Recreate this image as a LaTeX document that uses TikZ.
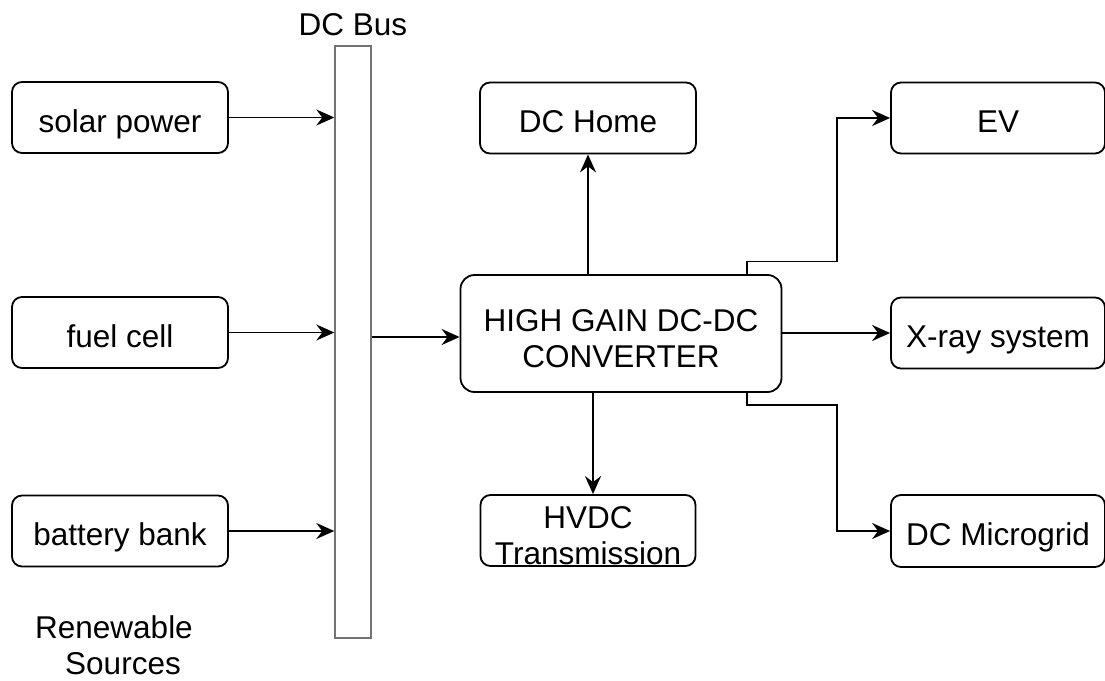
\documentclass[tikz,border=0pt]{standalone}
\usepackage{fontspec}
\setmainfont{Liberation Sans}
\usetikzlibrary{arrows.meta,positioning,calc}
\begin{document}
\begin{tikzpicture}[x=1pt,y=-1pt,
  box/.style={draw=black,line width=1.8pt,rounded corners=10pt,fill=white,
    minimum width=216pt,minimum height=71pt,inner sep=0pt,align=center,
    text height=30pt,text depth=1pt,
    font=\fontsize{31.5}{36}\selectfont},
  twoline/.style={text height=67pt,text depth=0pt},
  lbl/.style={inner sep=0pt,font=\fontsize{31.5}{36}\selectfont,anchor=base},
  conn/.style={line width=1.8pt,draw=black},
  arr/.style={conn,-{Stealth[length=18pt,width=16pt,inset=6pt]}}]
\useasboundingbox (0,0) rectangle (1105,680);
% sources
\node[box] (solar) at (120,117.5) {solar power};
\node[box] (fuel) at (120,332.5) {fuel cell};
\node[box] (batt) at (120,531) {battery bank};
\node[lbl] (ren) at (114,638) {Renewable};
\node[lbl] (src) at (123,674) {Sources};
% bus
\node[draw=black!55,line width=1.4pt,fill=white,minimum width=36pt,minimum height=592pt,inner sep=0pt] (bus) at (353,342) {};
\node[lbl] (buslbl) at (353,35) {DC Bus};
% converter and loads
\node[box,twoline,minimum width=321pt,minimum height=117pt,rounded corners=14pt] (conv) at (621,333.5) {HIGH GAIN DC-DC\\CONVERTER};
\node[box] (home) at (588,118) {DC Home};
\node[box,twoline,minimum width=215pt,minimum height=71pt] (hvdc) at (588,530.5) {HVDC\\Transmission};
\node[box,minimum width=214pt] (ev) at (998,118) {EV};
\node[box,minimum width=214pt] (xray) at (998,333) {X-ray system};
\node[box,minimum width=214pt,minimum height=72pt] (mg) at (998,531) {DC Microgrid};
% connectors
\draw[arr] (solar.east) -- (solar.east -| bus.west);
\draw[arr] (fuel.east) -- (fuel.east -| bus.west);
\draw[arr] (batt.east) -- (batt.east -| bus.west);
\coordinate (bo) at ($(bus.east)+(0,-5)$);
\draw[arr] (bo) -- (bo -| conv.west);
\coordinate (cu) at (588,0);
\draw[arr] (cu |- conv.north) -- (cu |- home.south);
\coordinate (cd) at (593,0);
\draw[arr] (cd |- conv.south) -- (cd |- hvdc.north);
\coordinate (cr) at (747,0);
\draw[arr] (cr |- conv.north) -- (747,261.5) -- (837,261.5) -- (837,118) -- (ev.west);
\draw[arr] (conv.east |- xray.west) -- (xray.west);
\draw[arr] (cr |- conv.south) -- (747,405) -- (837,405) -- (837,531) -- (mg.west);
\end{tikzpicture}
\end{document}
